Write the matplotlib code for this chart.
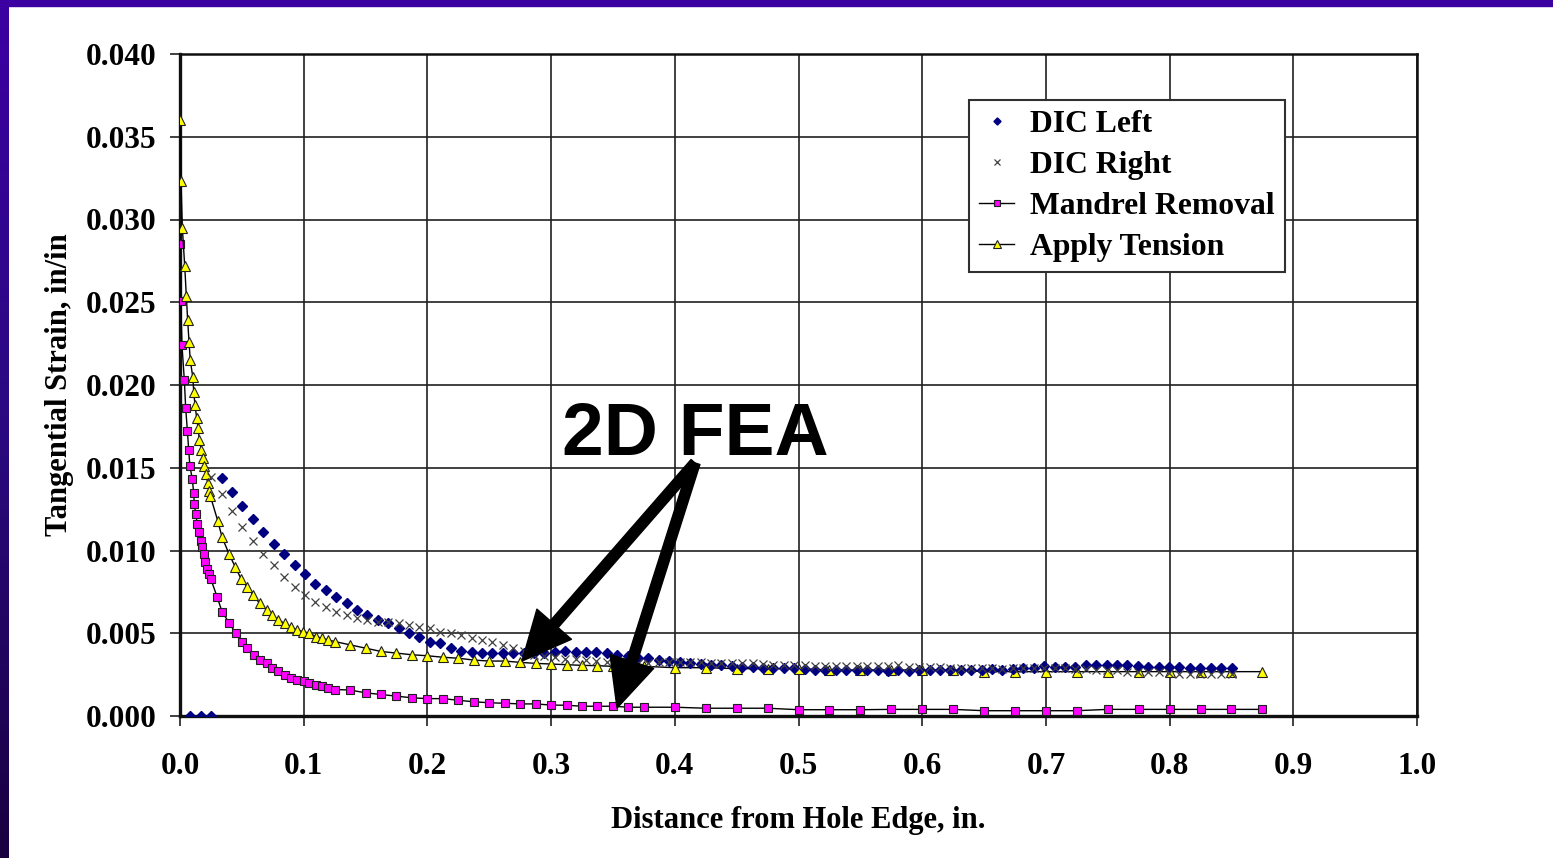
import matplotlib
matplotlib.use('Agg')
from matplotlib import pyplot as plt
from matplotlib.patches import Rectangle
import numpy as np

# Mandrel Removal (2D FEA)
mr_x = [0.0, 0.0006, 0.0016, 0.0035, 0.0046, 0.006, 0.007, 0.008, 0.010, 0.011,
        0.0116, 0.0127, 0.014, 0.0154, 0.0167, 0.018, 0.0194, 0.0205, 0.0216, 0.0234,
        0.0248, 0.030, 0.034, 0.040, 0.045, 0.050, 0.0545, 0.0595, 0.0645, 0.070,
        0.0745, 0.0795, 0.085, 0.090, 0.0945, 0.100, 0.1045, 0.110, 0.115, 0.120,
        0.125, 0.1375, 0.150, 0.1625, 0.175, 0.1875, 0.200, 0.2125, 0.225, 0.2375,
        0.250, 0.2625, 0.275, 0.2875, 0.300, 0.3125, 0.325, 0.3375, 0.350, 0.3625,
        0.375, 0.400, 0.425, 0.450, 0.475, 0.500, 0.525, 0.550, 0.575, 0.600,
        0.625, 0.650, 0.675, 0.700, 0.725, 0.750, 0.775, 0.800, 0.825, 0.850,
        0.875]
mr_y = [0.0285, 0.0251, 0.0224, 0.0203, 0.0186, 0.0172, 0.0161, 0.0151, 0.0143, 0.0135,
        0.0128, 0.0122, 0.0116, 0.0111, 0.0106, 0.0102, 0.0098, 0.0093, 0.0089, 0.0086,
        0.0083, 0.0072, 0.0063, 0.0056, 0.0050, 0.0045, 0.0041, 0.0037, 0.0034, 0.0032,
        0.0029, 0.0027, 0.0025, 0.0023, 0.0022, 0.0021, 0.0020, 0.0019, 0.0018, 0.0017,
        0.0016, 0.00157, 0.0014, 0.0013, 0.0012, 0.0011, 0.00105, 0.00105, 0.00095, 0.00086,
        0.0008, 0.00077, 0.00073, 0.00073, 0.00066, 0.00065, 0.00059, 0.00059, 0.00059, 0.00053,
        0.00053, 0.00053, 0.00047, 0.00047, 0.00047, 0.00038, 0.00038, 0.00038, 0.0004, 0.0004,
        0.0004, 0.00032, 0.00032, 0.00032, 0.00032, 0.0004, 0.0004, 0.0004, 0.0004, 0.0004,
        0.0004]

# Apply Tension (2D FEA)
at_x = [0.0, 0.0008, 0.0019, 0.0038, 0.0051, 0.0062, 0.0073, 0.0083, 0.0103, 0.0111,
        0.0121, 0.0135, 0.0146, 0.0156, 0.0172, 0.0184, 0.0196, 0.021, 0.0224, 0.0235,
        0.0245, 0.0305, 0.034, 0.0396, 0.0447, 0.0493, 0.0542, 0.0593, 0.0644, 0.0701,
        0.0744, 0.0795, 0.0846, 0.0897, 0.0943, 0.0997, 0.1045, 0.110, 0.1148, 0.1196,
        0.125, 0.1375, 0.150, 0.1625, 0.175, 0.1875, 0.200, 0.2125, 0.225, 0.2375,
        0.250, 0.2625, 0.275, 0.2875, 0.300, 0.3125, 0.325, 0.3375, 0.350, 0.3625,
        0.375, 0.400, 0.425, 0.450, 0.475, 0.500, 0.525, 0.550, 0.575, 0.600,
        0.625, 0.650, 0.675, 0.700, 0.725, 0.750, 0.775, 0.800, 0.825, 0.850,
        0.875]
at_y = [0.0360, 0.0323, 0.0295, 0.0272, 0.0254, 0.0239, 0.0226, 0.0215, 0.0205, 0.0196,
        0.0188, 0.0180, 0.0174, 0.0167, 0.0161, 0.0156, 0.0151, 0.0146, 0.0141, 0.0136,
        0.0133, 0.0118, 0.0108, 0.0098, 0.0090, 0.0083, 0.0078, 0.0073, 0.0068, 0.0064,
        0.0061, 0.0058, 0.0056, 0.0054, 0.0052, 0.0051, 0.0050, 0.0048, 0.0047, 0.0046,
        0.0045, 0.0043, 0.0041, 0.0039, 0.0038, 0.0037, 0.00364, 0.00355, 0.00349, 0.00338,
        0.00332, 0.00332, 0.00324, 0.00318, 0.00314, 0.0031, 0.00306, 0.00304, 0.0030, 0.0030,
        0.0030, 0.00292, 0.00292, 0.00286, 0.00286, 0.00286, 0.00278, 0.00278, 0.00278, 0.00278,
        0.00278, 0.00268, 0.00268, 0.00268, 0.00268, 0.00268, 0.00268, 0.00268, 0.00268, 0.00268,
        0.00268]

# DIC measurement positions (shared grid)
dic_x = [0.0084, 0.0168, 0.0252, 0.0337, 0.0421, 0.0505, 0.0589, 0.0673, 0.0757, 0.0842,
         0.0926, 0.1010, 0.1094, 0.1178, 0.1262, 0.1347, 0.1431, 0.1515, 0.1599, 0.1683,
         0.1767, 0.1852, 0.1936, 0.2020, 0.2104, 0.2188, 0.2272, 0.2357, 0.2441, 0.2525,
         0.2609, 0.2693, 0.2777, 0.2862, 0.2946, 0.3030, 0.3114, 0.3198, 0.3282, 0.3367,
         0.3451, 0.3535, 0.3619, 0.3703, 0.3787, 0.3872, 0.3956, 0.4040, 0.4124, 0.4208,
         0.4292, 0.4377, 0.4461, 0.4545, 0.4629, 0.4713, 0.4797, 0.4882, 0.4966, 0.5050,
         0.5134, 0.5218, 0.5302, 0.5387, 0.5471, 0.5555, 0.5639, 0.5723, 0.5807, 0.5892,
         0.5976, 0.6060, 0.6144, 0.6228, 0.6312, 0.6397, 0.6481, 0.6565, 0.6649, 0.6733,
         0.6817, 0.6902, 0.6986, 0.7070, 0.7154, 0.7238, 0.7322, 0.7407, 0.7491, 0.7575,
         0.7659, 0.7743, 0.7827, 0.7912, 0.7996, 0.8080, 0.8164, 0.8248, 0.8332, 0.8417,
         0.8501]
dic_left = [0.0, 0.0, 0.0, 0.0144, 0.01355, 0.0127, 0.0119, 0.0111, 0.0104, 0.0098,
            0.0091, 0.0086, 0.0080, 0.0076, 0.0072, 0.0068, 0.0064, 0.0061, 0.0058, 0.0056,
            0.0053, 0.0050, 0.0048, 0.0045, 0.0044, 0.0041, 0.00395, 0.00389, 0.00383, 0.00379,
            0.00379, 0.00379, 0.0038, 0.00383, 0.00383, 0.00387, 0.00395, 0.00389, 0.00389, 0.00389,
            0.00379, 0.00369, 0.00363, 0.00349, 0.00349, 0.00338, 0.00332, 0.00328, 0.00318, 0.00314,
            0.0031, 0.00306, 0.00302, 0.00298, 0.00298, 0.00292, 0.00292, 0.00288, 0.00288, 0.00284,
            0.00278, 0.0028, 0.0028, 0.00278, 0.00278, 0.00278, 0.00278, 0.00274, 0.00276, 0.00274,
            0.00278, 0.00278, 0.0028, 0.0028, 0.0028, 0.0028, 0.0028, 0.00284, 0.0028, 0.00287,
            0.00292, 0.00292, 0.0030, 0.00296, 0.00296, 0.00296, 0.00308, 0.00308, 0.00308, 0.00308,
            0.00308, 0.0030, 0.00296, 0.00296, 0.00296, 0.00296, 0.00288, 0.00288, 0.00288, 0.00288,
            0.00288]
dic_right = [np.nan, np.nan, 0.01446, 0.0134, 0.0124, 0.0114, 0.0106, 0.0098, 0.0091, 0.0084,
             0.0078, 0.0073, 0.0069, 0.0066, 0.0063, 0.0061, 0.0059, 0.0058, 0.0057, 0.00565,
             0.0056, 0.0055, 0.0054, 0.0053, 0.0051, 0.0050, 0.0049, 0.0047, 0.0046, 0.00445,
             0.0043, 0.0041, 0.0039, 0.0037, 0.0036, 0.00355, 0.00343, 0.00343, 0.00338, 0.00332,
             0.00328, 0.00324, 0.0032, 0.0032, 0.0032, 0.00325, 0.00328, 0.00328, 0.00328, 0.00325,
             0.00322, 0.0032, 0.00318, 0.00318, 0.00318, 0.00315, 0.00308, 0.00308, 0.00308, 0.00308,
             0.00305, 0.00305, 0.00302, 0.00302, 0.00302, 0.00302, 0.00302, 0.00302, 0.00308, 0.00298,
             0.00298, 0.00298, 0.00295, 0.00292, 0.0029, 0.0029, 0.00288, 0.00288, 0.00286, 0.00288,
             0.0029, 0.0029, 0.0029, 0.0029, 0.00288, 0.00285, 0.00282, 0.0028, 0.00278, 0.00275,
             0.00268, 0.00268, 0.00268, 0.00268, 0.0026, 0.00256, 0.00254, 0.00256, 0.00254, 0.00254,
             0.00256]

x_ticks = [0.0, 0.1, 0.2, 0.3, 0.4, 0.5, 0.6, 0.7, 0.8, 0.9, 1.0]
y_ticks = [0.000, 0.005, 0.010, 0.015, 0.020, 0.025, 0.030, 0.035, 0.040]

plt.rcParams['font.family'] = ['Liberation Serif', 'DejaVu Serif']
plt.rcParams['font.weight'] = 'bold'
plt.rcParams['axes.labelweight'] = 'bold'

fig = plt.figure(figsize=(15.53, 8.58), dpi=100)
fig.patch.set_facecolor('white')

# slide background edges
band = fig.add_axes([0, 0, 9 / 1553, 1])
band.imshow(np.linspace(0, 1, 256).reshape(-1, 1), aspect='auto',
            cmap=matplotlib.colors.LinearSegmentedColormap.from_list(
                'slide', ['#3c00a2', '#2a0a80', '#1a0040']))
band.axis('off')
fig.patches.append(Rectangle((0, 1 - 6 / 858), 1, 6 / 858, transform=fig.transFigure,
                             color='#3c00a2', zorder=0))

ax = fig.add_axes([180 / 1553, 1 - 716 / 858, 1237 / 1553, 662 / 858])

ax.plot(dic_x, dic_left, ls='none', marker='D', ms=4.8, color='#000080',
        label='DIC Left', zorder=4)
ax.plot(dic_x, dic_right, ls='none', marker='x', ms=5.2, mew=0.9, color='#404040',
        label='DIC Right', zorder=4)
ax.plot(mr_x, mr_y, color='black', lw=1, marker='s', ms=5.4, mfc='#ff00ff',
        mec='#202020', mew=0.8, label='Mandrel Removal', zorder=3)
ax.plot(at_x, at_y, color='black', lw=1, marker='^', ms=6.8, mfc='#ffff00',
        mec='#202020', mew=0.8, label='Apply Tension', zorder=3)

ax.set_xlim(0, 1.0)
ax.set_ylim(0, 0.04)
ax.set_xticks(x_ticks)
ax.set_yticks(y_ticks)
ax.set_xticklabels([f'{v:.1f}' for v in x_ticks])
ax.set_yticklabels([f'{v:.3f}' for v in y_ticks])
ax.tick_params(axis='both', direction='out', length=7, width=1.2, labelsize=22.5, color='#202020')
ax.tick_params(axis='x', pad=19)
ax.tick_params(axis='y', pad=10)
ax.grid(True, color='#202020', lw=1.2)
ax.set_axisbelow(True)
for side, lw in (('left', 2.4), ('bottom', 2.4), ('top', 1.8), ('right', 1.8)):
    ax.spines[side].set_linewidth(lw)
    ax.spines[side].set_color('#101010')

ax.set_xlabel('Distance from Hole Edge, in.', fontsize=22, fontweight='bold')
ax.set_ylabel('Tangential Strain, in/in', fontsize=22, fontweight='bold')
ax.xaxis.set_label_coords(0.5, -0.136)
ax.yaxis.set_label_coords(-0.086, 0.5)

leg = ax.legend(loc='upper left', bbox_to_anchor=(0.638, 0.9305), borderaxespad=0,
                fontsize=22.8, fancybox=False, framealpha=1, edgecolor='#303030',
                handlelength=1.1, handletextpad=0.5, borderpad=0.32, labelspacing=0.37,
                markerscale=0.75)
leg.get_frame().set_linewidth(1.5)

# 2D FEA callout
ax.text(0.4163, 0.01577, '2D FEA', fontsize=54, fontweight='bold',
        family=['Liberation Sans', 'DejaVu Sans'], ha='center', va='baseline', zorder=6)
arrow = dict(arrowstyle='simple,head_length=1.6,head_width=1.5,tail_width=0.34',
             mutation_scale=22, fc='black', ec='black', shrinkA=0, shrinkB=0)
for tip in [(0.2765, 0.00332), (0.3533, 0.00048)]:
    ax.annotate('', xy=tip, xytext=(0.4163, 0.01529), arrowprops=arrow, zorder=6)

fig.savefig('out.png', dpi=100)
plt.close(fig)
